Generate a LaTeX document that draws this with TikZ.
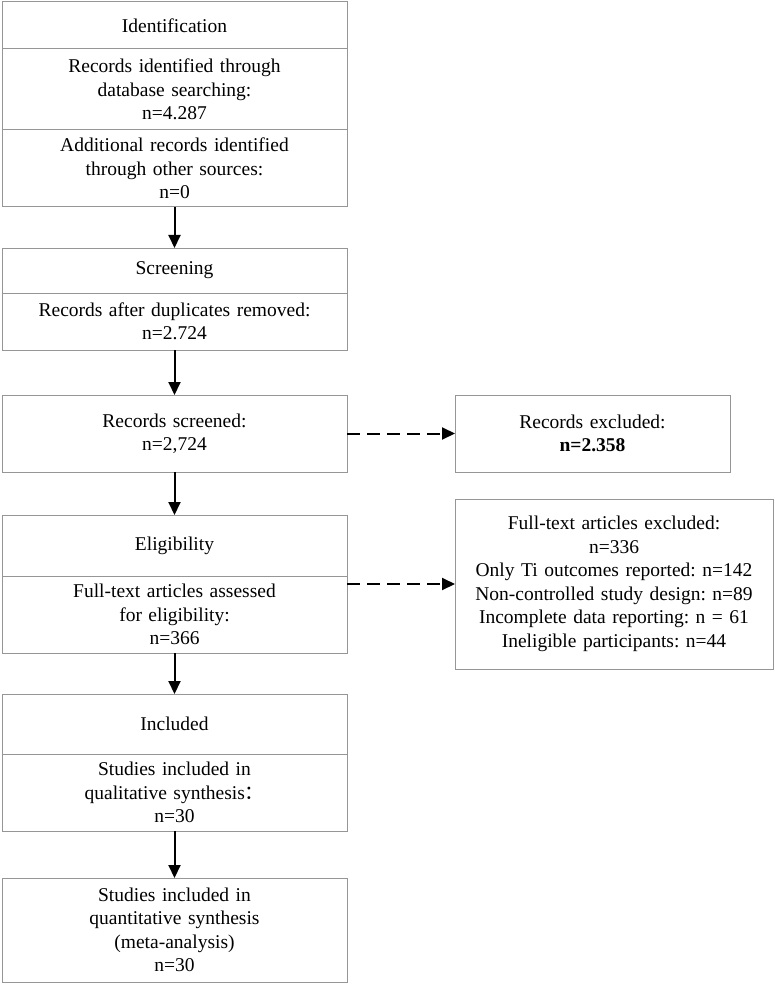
\documentclass[tikz,border=0pt]{standalone}
\usepackage{fontspec}
\setmainfont{Liberation Serif}
\newfontfamily\cjkfont{Noto Sans CJK SC}
\usepackage{tikz}
\usetikzlibrary{arrows.meta,positioning}
\definecolor{boxgray}{RGB}{150,150,150}
\newcommand{\flowfont}{\fontsize{19.5}{23.5}\selectfont\frenchspacing}

\tikzset{
  stage/.style={draw=boxgray, line width=1pt, inner sep=0pt, outer sep=0pt,
    align=center, text width=345pt, font=\flowfont},
  flow/.style={-{Triangle[length=13pt,width=12pt]}, line width=2pt},
  skip/.style={flow, dash pattern=on 13pt off 7pt},
}

\begin{document}
\begin{tikzpicture}
  \useasboundingbox (0,0) rectangle (775pt,-984pt);

  % Identification
  \node[stage, minimum height=47pt] (ident) at (174.5pt,-25.5pt) {Identification};
  \node[stage, minimum height=81pt, below=0pt of ident] (dbsearch) {Records identified through\\database searching:\\n=4.287};
  \node[stage, minimum height=77pt, below=0pt of dbsearch] (other) {Additional records identified\\through other sources:\\n=0};

  % Screening
  \node[stage, minimum height=45pt, below=41pt of other] (screen) {Screening};
  \node[stage, minimum height=57pt, below=0pt of screen] (dedup) {Records after duplicates removed:\\n=2.724};
  \node[stage, minimum height=77pt, below=45pt of dedup] (screened) {Records screened:\\n=2,724};

  % Eligibility
  \node[stage, minimum height=61pt, below=43pt of screened] (elig) {Eligibility};
  \node[stage, minimum height=77pt, below=0pt of elig] (fulltext) {Full-text articles assessed\\for eligibility:\\n=366};

  % Included
  \node[stage, minimum height=60pt, below=41pt of fulltext] (incl) {Included};
  \node[stage, minimum height=77pt, below=0pt of incl] (qual) {Studies included in\\qualitative synthesis{\cjkfont ：}\\n=30};
  \node[stage, minimum height=104pt, below=47pt of qual] (quant) {Studies included in\\quantitative synthesis\\(meta-analysis)\\n=30};

  % Exclusions
  \node[stage, text width=275pt, minimum height=77pt, right=108pt of screened] (excl) {Records excluded:\\\textbf{n=2.358}};
  \node[stage, text width=318pt, minimum height=170pt, below=27pt of excl.south west, anchor=north west] (ftexcl)
    {Full-text articles excluded:\\n=336\\Only Ti outcomes reported: n=142\\Non-controlled study design: n=89\\Incomplete data reporting: n = 61\\Ineligible participants: n=44};

  % Arrows
  \draw[flow] (other) -- (screen);
  \draw[flow] (dedup) -- (screened);
  \draw[flow] (screened) -- (elig);
  \draw[flow] (fulltext) -- (incl);
  \draw[flow] (qual) -- (quant);
  \draw[skip] (screened) -- (excl);
  \draw[skip] (fulltext.east |- ftexcl.west) -- (ftexcl.west);
\end{tikzpicture}
\end{document}
